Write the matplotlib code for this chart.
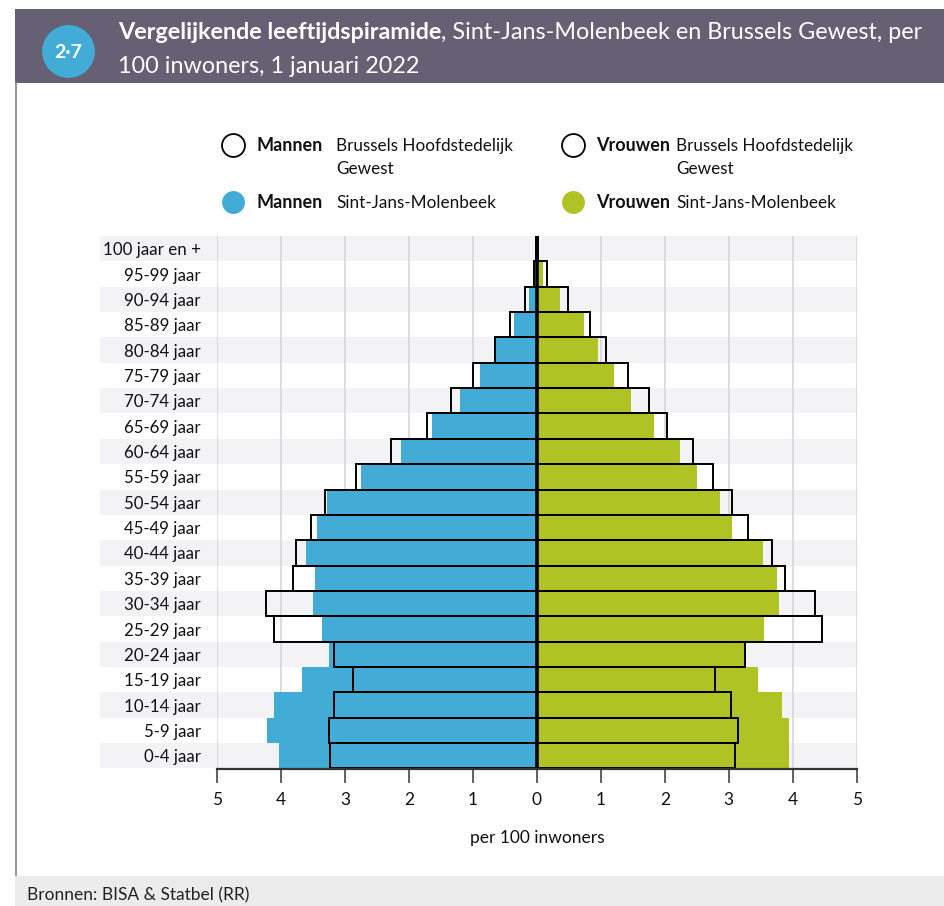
import matplotlib
matplotlib.use("Agg")
import matplotlib.pyplot as plt
from matplotlib.patches import Rectangle
from matplotlib.lines import Line2D
from matplotlib.transforms import blended_transform_factory
import numpy as np

plt.rcParams['font.family'] = ['Lato', 'DejaVu Sans']

# ---------------- data ----------------
age_groups = ['100 jaar en +', '95-99 jaar', '90-94 jaar', '85-89 jaar', '80-84 jaar',
              '75-79 jaar', '70-74 jaar', '65-69 jaar', '60-64 jaar', '55-59 jaar',
              '50-54 jaar', '45-49 jaar', '40-44 jaar', '35-39 jaar', '30-34 jaar',
              '25-29 jaar', '20-24 jaar', '15-19 jaar', '10-14 jaar', '5-9 jaar', '0-4 jaar']
men_molenbeek = [0.0, 0.01, 0.12, 0.355, 0.64, 0.886, 1.2, 1.64, 2.12, 2.76, 3.29,
                 3.435, 3.62, 3.465, 3.51, 3.355, 3.25, 3.67, 4.12, 4.23, 4.04]
men_brussels = [0.01, 0.04, 0.18, 0.42, 0.66, 0.995, 1.345, 1.725, 2.28, 2.83, 3.31,
                3.54, 3.77, 3.81, 4.235, 4.11, 3.17, 2.875, 3.17, 3.26, 3.245]
women_molenbeek = [0.01, 0.09, 0.36, 0.74, 0.96, 1.21, 1.47, 1.83, 2.24, 2.5, 2.86,
                   3.05, 3.54, 3.755, 3.785, 3.545, 3.24, 3.46, 3.83, 3.94, 3.94]
women_brussels = [0.02, 0.156, 0.48, 0.83, 1.08, 1.42, 1.745, 2.04, 2.44, 2.76, 3.05,
                  3.30, 3.68, 3.875, 4.345, 4.45, 3.26, 2.79, 3.03, 3.15, 3.10]
x_ticks = [-5, -4, -3, -2, -1, 0, 1, 2, 3, 4, 5]
x_tick_labels = ['5', '4', '3', '2', '1', '0', '1', '2', '3', '4', '5']

title_bold = 'Vergelijkende leeftijdspiramide'
title_rest = ', Sint-Jans-Molenbeek en Brussels Gewest, per'
title_line2 = '100 inwoners, 1 januari 2022'
badge = '2·7'
x_label = 'per 100 inwoners'
source = 'Bronnen: BISA & Statbel (RR)'

BLUE = '#43acd6'
GREEN = '#afc424'
HEADER = '#656073'
BAND = '#f3f3f5'
GRID = '#d3d3d7'

W, H = 945, 906
fig = plt.figure(figsize=(W / 100, H / 100), dpi=100)
fig.patch.set_facecolor('white')


def fx(px):
    return px / W


def fy(py):
    return 1 - py / H


# ---------------- header ----------------
fig.add_artist(Rectangle((fx(15), fy(83)), fx(W) - fx(15), fy(9) - fy(83),
                         transform=fig.transFigure, facecolor=HEADER,
                         edgecolor='none', zorder=1))
# left border & footer
fig.add_artist(Line2D([fx(16), fx(16)], [fy(83), fy(876)], transform=fig.transFigure,
                      color='#8c8a98', lw=1.3, zorder=1))
fig.add_artist(Rectangle((fx(15), 0), 1 - fx(15), fy(876),
                         transform=fig.transFigure, facecolor='#ececec',
                         edgecolor='none', zorder=1))
fig.text(fx(27), fy(895), source, fontsize=12.5, va='center', ha='left', color='#222222')

# badge circle
fig.add_artist(Line2D([fx(68)], [fy(51)], marker='o', markersize=38, color=BLUE,
                      markeredgewidth=0, transform=fig.transFigure, zorder=2))
fig.text(fx(68), fy(52), badge, fontsize=14, fontweight='bold', color='white',
         ha='center', va='center', zorder=3)

TS = 16.8
t1 = fig.text(fx(118), fy(39), title_bold, fontsize=TS, fontweight='bold',
              color='white', ha='left', va='baseline', zorder=3)
renderer = fig.canvas.get_renderer()
bb = t1.get_window_extent(renderer)
fig.text(bb.x1 / fig.bbox.width, fy(39), title_rest, fontsize=TS, color='white',
         ha='left', va='baseline', zorder=3)
fig.text(fx(118), fy(73), title_line2, fontsize=TS, color='white',
         ha='left', va='baseline', zorder=3)

# ---------------- legend ----------------
leg_items = [
    (233, 145, 'white', 'Mannen', 256, ['Brussels Hoofdstedelijk', 'Gewest']),
    (233, 202, BLUE, 'Mannen', 256, ['Sint-Jans-Molenbeek']),
    (573, 145, 'white', 'Vrouwen', 596, ['Brussels Hoofdstedelijk', 'Gewest']),
    (573, 202, GREEN, 'Vrouwen', 596, ['Sint-Jans-Molenbeek']),
]
for cx, cy, col, sex, tx, lines in leg_items:
    edge = 'black' if col == 'white' else col
    fig.add_artist(Line2D([fx(cx)], [fy(cy)], marker='o', markersize=16.5,
                          markerfacecolor=col, markeredgecolor=edge,
                          markeredgewidth=1.3 if col == 'white' else 0,
                          transform=fig.transFigure))
    fig.text(fx(tx), fy(cy + 1), sex, fontsize=13, fontweight='bold',
             ha='left', va='center', color='#111111')
    for k, ln in enumerate(lines):
        fig.text(fx(tx + 80), fy(cy + 1 + 23 * k), ln, fontsize=12.3,
                 ha='left', va='center', color='#111111')

# ---------------- axes ----------------
ax_l, ax_r, ax_t, ax_b = 217.3, 856.7, 236, 768.5
ax = fig.add_axes([fx(ax_l), fy(ax_b), fx(ax_r) - fx(ax_l), fy(ax_t) - fy(ax_b)])
ax.patch.set_alpha(0)

n = len(age_groups)
y = np.arange(n)

trans = blended_transform_factory(fig.transFigure, ax.transData)
for i in range(0, n, 2):
    ax.add_patch(Rectangle((fx(100), i - 0.5), fx(ax_r) - fx(100), 1.0,
                           transform=trans, facecolor=BAND, edgecolor='none',
                           zorder=0, clip_on=False))

for xv in x_ticks:
    if xv != 0:
        ax.axvline(xv, color=GRID, lw=1.1, zorder=0.5)

ax.barh(y, -np.array(men_molenbeek), height=1.0, color=BLUE, edgecolor='none', zorder=2)
ax.barh(y, np.array(women_molenbeek), height=1.0, color=GREEN, edgecolor='none', zorder=2)
ax.barh(y, -np.array(men_brussels), height=1.0, fill=False, edgecolor='black',
        linewidth=1.4, zorder=3)
ax.barh(y, np.array(women_brussels), height=1.0, fill=False, edgecolor='black',
        linewidth=1.4, zorder=3)
ax.axvline(0, color='black', lw=2.6, zorder=4)

ax.set_xlim(-5, 5)
ax.set_ylim(n - 0.5, -0.5)
ax.set_yticks(y)
ax.set_yticklabels(age_groups, fontsize=12.2, color='#111111')
ax.tick_params(axis='y', length=0, pad=12)
ax.set_xticks(x_ticks)
ax.set_xticklabels(x_tick_labels, fontsize=12.5, color='#111111')
ax.tick_params(axis='x', length=10, width=1.2, color='#444444', pad=7)
for s in ['left', 'top', 'right']:
    ax.spines[s].set_visible(False)
ax.spines['bottom'].set_color('#333333')
ax.spines['bottom'].set_linewidth(1.6)
ax.spines['bottom'].set_zorder(5)

fig.text(fx(537), fy(838), x_label, fontsize=12.5, ha='center', va='center',
         color='#111111')

fig.savefig('out.png', dpi=100)
